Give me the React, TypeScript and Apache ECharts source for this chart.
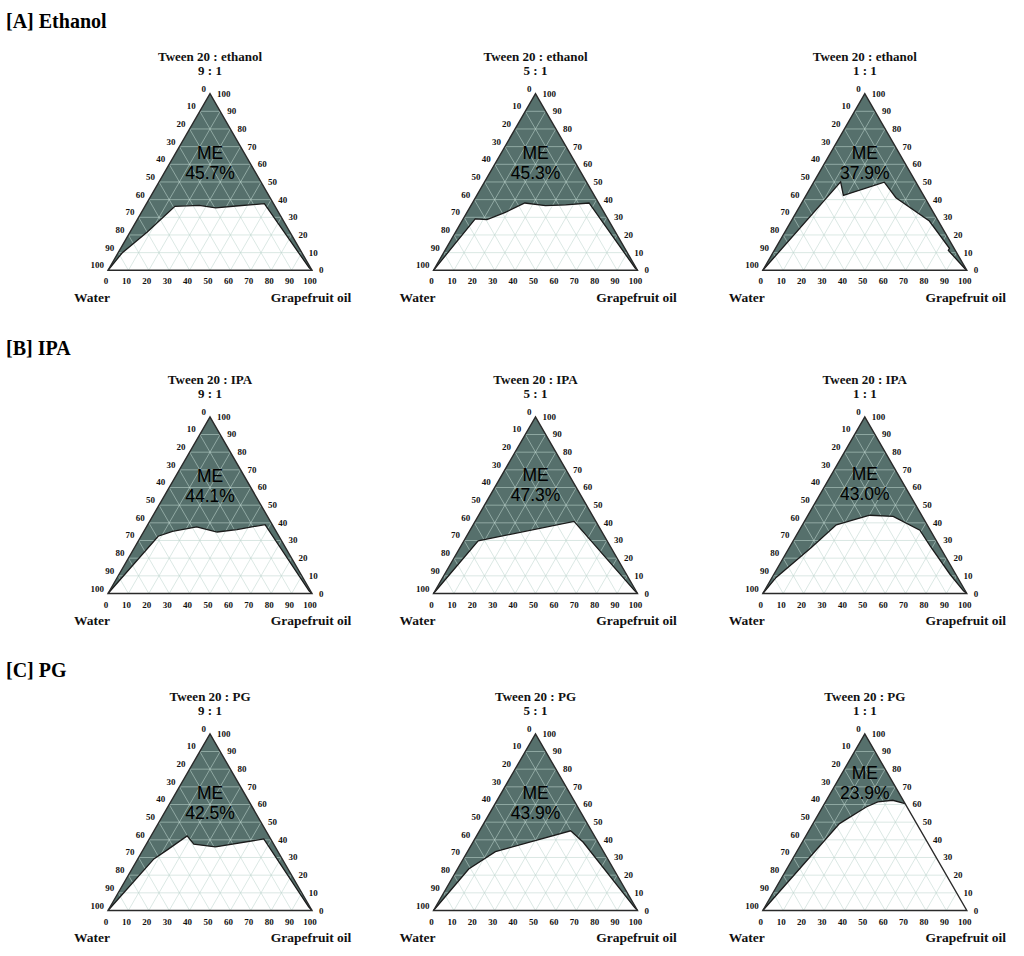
import React, { useEffect, useRef } from "react";
import * as echarts from "echarts";

// ---------- data ----------
const sectionTitles = ["[A] Ethanol", "[B] IPA", "[C] PG"];
const cosurfactants = ["ethanol", "IPA", "PG"];
const ratios = ["9 : 1", "5 : 1", "1 : 1"];
const tickValues = [0, 10, 20, 30, 40, 50, 60, 70, 80, 90, 100];
const axisNames = ["Water", "Grapefruit oil"];

// ME area (%) per row (co-surfactant) and column (ratio)
const meEthanol = [45.7, 45.3, 37.9];
const meIPA = [44.1, 47.3, 43.0];
const mePG = [42.5, 43.9, 23.9];

// Smix level (%) where the "ME" label sits
const meLabelLevelEthanol = [61, 60.5, 61];
const meLabelLevelIPA = [61, 61.5, 62];
const meLabelLevelPG = [61, 61, 72];

// Phase boundary points [oil %, Smix %] (water = 100 - oil - Smix), from water corner to oil side
const bEthanol91 = [[0, 0], [2.0, 9.8], [8.4, 21.7], [14.7, 36.2], [26.3, 36.8], [35.2, 35.3], [44.5, 36.4], [57.8, 37.7], [97.8, 1.5], [100, 0]];
const bEthanol51 = [[0, 0], [5.9, 29.1], [11.9, 28.7], [18.8, 32.8], [25.7, 38.1], [36.6, 36.6], [46.3, 37.0], [57.2, 38.1], [98.2, 1.3], [100, 0]];
const bEthanol11 = [[0, 0], [13.1, 50.1], [18.3, 42.4], [34.6, 49.9], [44.7, 41.1], [67.7, 27.9], [85.3, 12.4], [85.3, 11.3], [98.5, 1.0], [100, 0]];
const bIPA91 = [[0, 0], [8.4, 32.4], [14.0, 35.2], [24.6, 37.7], [36.1, 34.8], [45.1, 36.2], [57.5, 39.0], [97.8, 1.5], [100, 0]];
const bIPA51 = [[0, 0], [7.0, 29.8], [48.5, 40.8], [97.4, 1.9], [100, 0]];
const bIPA11 = [[0, 0], [2.0, 9.1], [10.8, 26.0], [16.6, 38.9], [30.3, 44.3], [42.1, 43.6], [59.1, 35.8], [68.5, 27.0], [86.3, 10.9], [97.6, 1.5], [100, 0]];
const bPG91 = [[0, 0], [7.9, 29.2], [11.9, 34.3], [17.7, 42.2], [23.3, 37.5], [34.7, 36.0], [56.1, 40.5], [97.3, 2.1], [100, 0]];
const bPG51 = [[0, 0], [5.5, 23.5], [13.7, 33.3], [44.7, 45.1], [54.1, 38.6], [97.3, 2.1], [100, 0]];
const bPG11 = [[0, 0], [13.0, 49.2], [21.4, 58.6], [25.6, 61.5], [32.5, 62.4], [39.5, 60.5]];

const boundaries = [
  [bEthanol91, bEthanol51, bEthanol11],
  [bIPA91, bIPA51, bIPA11],
  [bPG91, bPG51, bPG11],
];
const mePercent = [meEthanol, meIPA, mePG];
const meLevels = [meLabelLevelEthanol, meLabelLevelIPA, meLabelLevelPG];

// ---------- layout / style ----------
const SQ = Math.sqrt(3) / 2;
const TRI_W = 204;
const TRI_H = TRI_W * SQ;
const colCenters = [210, 535.5, 864.8];
const rowBottoms = [270.3, 593.5, 910.5];
const titleY = [20.7, 348.3, 670];
const FILL = "#56706c";
const GRID_LINE = "rgba(190,214,207,0.7)";
const SERIF = '"Liberation Serif", "Times New Roman", serif';

const toCart = (oil: number, smix: number) => [oil + smix / 2, smix * SQ];

function txt(x: number, y: number, text: string, font: string, align: string, vAlign = "middle", fill = "#111") {
  return { type: "text", x, y, style: { text, font, fill, align, verticalAlign: vAlign } };
}

function makeRenderItem(r: number, c: number) {
  return (params: any, api: any) => {
    const P = (oil: number, smix: number) => api.coord(toCart(oil, smix));
    const bnd = boundaries[r][c];
    const apex = P(0, 100);
    const L = P(0, 0);
    const R = P(100, 0);
    const children: any[] = [];

    // ME region
    children.push({
      type: "polygon",
      shape: { points: [...bnd.map((p) => P(p[0], p[1])), apex] },
      style: { fill: FILL, stroke: null },
    });

    // grid lines
    for (let k = 10; k < 100; k += 10) {
      const segs = [
        [P(0, k), P(100 - k, k)],
        [P(k, 0), P(k, 100 - k)],
        [P(100 - k, 0), P(0, 100 - k)],
      ];
      segs.forEach(([a, b]) =>
        children.push({
          type: "line",
          shape: { x1: a[0], y1: a[1], x2: b[0], y2: b[1] },
          style: { stroke: GRID_LINE, lineWidth: 0.8 },
        })
      );
    }

    // boundary
    children.push({
      type: "polyline",
      shape: { points: bnd.map((p) => P(p[0], p[1])) },
      style: { stroke: "#1a1a1a", lineWidth: 1.3, fill: null },
    });

    // outline
    children.push({
      type: "polygon",
      shape: { points: [L, apex, R] },
      style: { fill: null, stroke: "#2a2a2a", lineWidth: 1.4 },
    });

    const tickFont = `bold 9px ${SERIF}`;
    tickValues.forEach((v) => {
      // water (left side): 0 at apex, 100 at water corner
      const lw = P(0, 100 - v);
      children.push(txt(lw[0] - 4, lw[1] - 5, String(v), tickFont, "right"));
      // smix (right side): 100 at apex, 0 at oil corner
      const rs = P(100 - v, v);
      children.push(txt(rs[0] + 7, rs[1], String(v), tickFont, "left"));
      // oil (bottom)
      const bo = P(v, 0);
      children.push(txt(bo[0] - 2, bo[1] + 11, String(v), tickFont, "center"));
    });

    // corner names
    const nameFont = `bold 13.5px ${SERIF}`;
    children.push(txt(L[0] - 16, L[1] + 27, axisNames[0], nameFont, "center"));
    children.push(txt(R[0] - 1, R[1] + 27, axisNames[1], nameFont, "center"));

    // panel subtitle
    const subFont = `bold 13px ${SERIF}`;
    children.push(txt(apex[0], apex[1] - 37, `Tween 20 : ${cosurfactants[r]}`, subFont, "center"));
    children.push(txt(apex[0], apex[1] - 23, ratios[c], subFont, "center"));

    // ME label
    const lvl = meLevels[r][c];
    const mp = P(50 - lvl / 2, lvl);
    const meFont = `17.5px "Liberation Sans", Arial, sans-serif`;
    children.push(txt(mp[0], mp[1] - 10, "ME", meFont, "center", "middle", "#000"));
    children.push(txt(mp[0], mp[1] + 10, `${mePercent[r][c].toFixed(1)}%`, meFont, "center", "middle", "#000"));

    return { type: "group", children };
  };
}

export default function App() {
  const ref = useRef<HTMLDivElement>(null);
  useEffect(() => {
    if (!ref.current) return;
    const chart = echarts.init(ref.current, null, { renderer: "svg" });
    const grids: any[] = [];
    const xAxes: any[] = [];
    const yAxes: any[] = [];
    const series: any[] = [];
    let i = 0;
    for (let r = 0; r < 3; r++) {
      for (let c = 0; c < 3; c++) {
        grids.push({
          left: colCenters[c] - TRI_W / 2,
          top: rowBottoms[r] - TRI_H,
          width: TRI_W,
          height: TRI_H,
          containLabel: false,
        });
        xAxes.push({ gridIndex: i, type: "value", min: 0, max: 100, show: false });
        yAxes.push({ gridIndex: i, type: "value", min: 0, max: 100 * SQ, show: false });
        series.push({
          type: "custom",
          xAxisIndex: i,
          yAxisIndex: i,
          data: [[0, 0]],
          clip: false,
          silent: true,
          renderItem: makeRenderItem(r, c),
        });
        i++;
      }
    }
    chart.setOption({
      animation: false,
      backgroundColor: "#ffffff",
      grid: grids,
      xAxis: xAxes,
      yAxis: yAxes,
      graphic: sectionTitles.map((t, k) => ({
        type: "text",
        x: 6,
        y: titleY[k],
        style: {
          text: t,
          font: `bold 20px ${SERIF}`,
          fill: "#000",
          align: "left",
          verticalAlign: "middle",
        },
      })),
      series,
    });
    return () => chart.dispose();
  }, []);
  return (
    <div
      ref={ref}
      style={{ position: "absolute", left: 0, top: 0, width: 1024, height: 956 }}
    />
  );
}
